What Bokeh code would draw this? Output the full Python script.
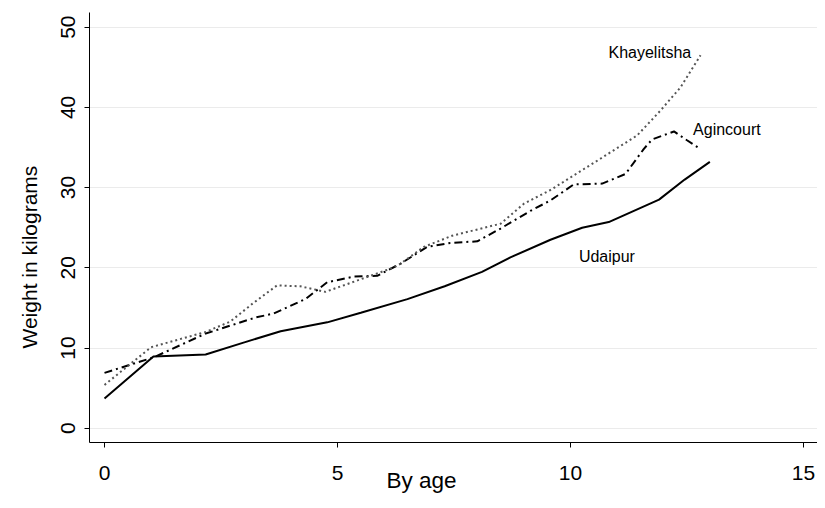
from bokeh.plotting import figure
from bokeh.models import Range1d, FixedTicker, Title
from bokeh.core.properties import value
from bokeh.embed import file_html
from bokeh.resources import INLINE

# ---- data ----
udaipur_age = [0, 1.05, 2.17, 3.0, 3.78, 4.78, 5.5, 6.5, 7.3, 8.1, 8.71, 9.57, 10.25, 10.82, 11.9, 12.45, 12.99]
udaipur_wt = [3.7, 8.95, 9.2, 10.7, 12.1, 13.2, 14.4, 16.1, 17.7, 19.5, 21.3, 23.5, 25.0, 25.7, 28.5, 31.0, 33.2]

agincourt_age = [0, 1.06, 2.17, 3.24, 3.63, 4.31, 4.78, 5.35, 5.85, 6.35, 6.92, 7.42, 8.0, 8.5, 9.14, 9.57,
                 10.07, 10.68, 11.18, 11.57, 11.75, 12.22, 12.5, 12.79]
agincourt_wt = [6.9, 8.85, 11.8, 13.8, 14.3, 16.1, 18.2, 18.9, 19.0, 20.5, 22.6, 23.1, 23.3, 24.9, 27.1, 28.4,
                30.4, 30.5, 31.7, 34.8, 36.0, 37.0, 35.9, 34.8]

khayelitsha_age = [0, 1.0, 2.17, 2.7, 3.17, 3.7, 4.2, 4.74, 6.14, 6.35, 6.85, 7.46, 8.5, 9.0, 9.57,
                   10.64, 11.43, 11.93, 12.36, 12.79]
khayelitsha_wt = [5.4, 10.1, 12.0, 13.3, 15.5, 17.8, 17.7, 17.0, 19.9, 20.5, 22.6, 24.0, 25.5, 28.0, 29.7,
                  33.6, 36.5, 39.6, 42.5, 46.5]

label_text = ["Khayelitsha", "Agincourt", "Udaipur"]
label_x = [12.59, 12.63, 10.18]
label_y = [46.8, 37.2, 21.4]
label_align = ["right", "left", "left"]

x_ticks = [0, 5, 10, 15]
y_ticks = [0, 10, 20, 30, 40, 50]

x_title = "By age"
y_title = "Weight in kilograms"

FONT = "Liberation Sans"

p = figure(width=817, height=500, output_backend="svg", toolbar_location=None,
           x_range=Range1d(-0.322, 15.30), y_range=Range1d(-1.78, 51.83),
           min_border_left=89, min_border_right=0, min_border_top=12, min_border_bottom=58)
p.outline_line_color = None
p.background_fill_color = "white"
p.border_fill_color = "white"

p.line(udaipur_age, udaipur_wt, line_color="black", line_width=2)
p.line(agincourt_age, agincourt_wt, line_color="black", line_width=2, line_dash="8 4 2 4")
p.line(khayelitsha_age, khayelitsha_wt, line_color="#555555", line_width=2, line_dash="2 3")

for t, x, y, a in zip(label_text, label_x, label_y, label_align):
    p.text(x=[x], y=[y], text=[t], text_align=a, text_baseline="middle",
           text_font=value(FONT), text_font_size="16px", text_color="black")

p.xaxis.ticker = FixedTicker(ticks=x_ticks)
p.yaxis.ticker = FixedTicker(ticks=y_ticks)
p.xgrid.visible = False
p.ygrid.grid_line_color = "#ebebeb"
p.ygrid.grid_line_width = 1

for ax in (p.xaxis[0], p.yaxis[0]):
    ax.axis_line_color = "black"
    ax.axis_line_width = 1
    ax.major_tick_line_color = "black"
    ax.major_tick_in = 0
    ax.major_tick_out = 5
    ax.minor_tick_line_color = None
    ax.major_label_text_font = FONT
    ax.major_label_text_font_size = "21px"
    ax.major_label_text_color = "black"

p.xaxis.major_label_standoff = 18
p.yaxis.major_label_orientation = "vertical"
p.yaxis.major_label_standoff = 9

p.add_layout(Title(text=x_title, align="left", offset=297, standoff=-30, vertical_align="top",
                   text_font=FONT, text_font_size="22.5px", text_font_style="normal",
                   text_color="black"), "below")
p.add_layout(Title(text=y_title, align="left", offset=94, standoff=31, vertical_align="top",
                   text_font=FONT, text_font_size="21px", text_font_style="normal",
                   text_color="black"), "left")

open("out.html", "w").write(file_html(p, INLINE))
